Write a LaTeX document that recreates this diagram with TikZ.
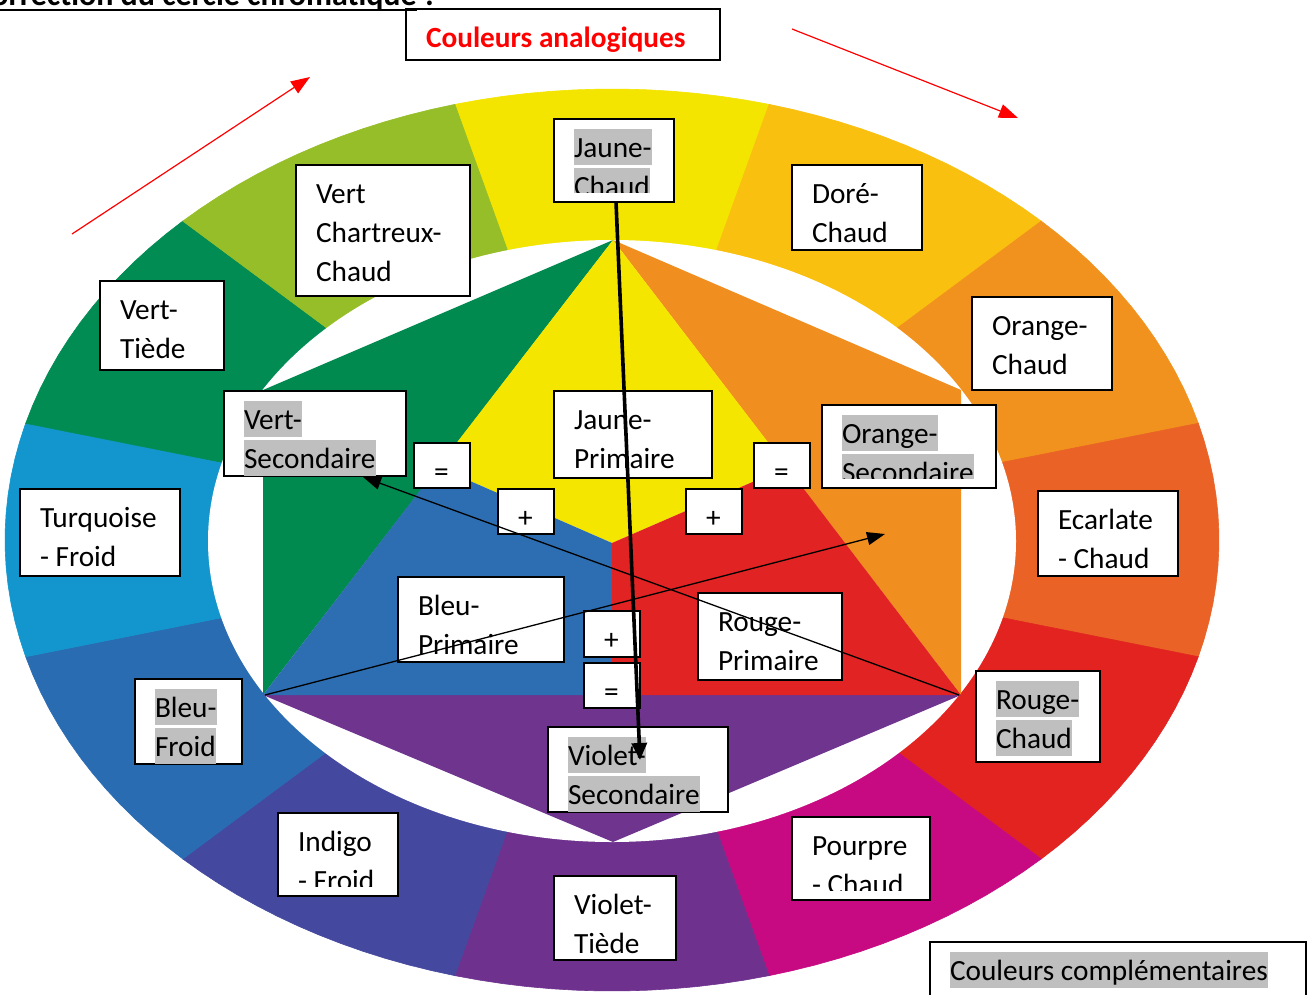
\documentclass[tikz,border=0pt]{standalone}
\usepackage{fontspec}
\setmainfont{Carlito}
\usetikzlibrary{arrows.meta}
\definecolor{hlgray}{RGB}{191,191,191}
\definecolor{cY}{RGB}{243,229,0}
\definecolor{cYO}{RGB}{250,192,15}
\definecolor{cO}{RGB}{242,146,30}
\definecolor{cRO}{RGB}{234,98,38}
\definecolor{cR}{RGB}{226,35,32}
\definecolor{cM}{RGB}{200,10,130}
\definecolor{cV}{RGB}{110,50,142}
\definecolor{cI}{RGB}{68,72,158}
\definecolor{cB}{RGB}{42,108,178}
\definecolor{cT}{RGB}{18,150,205}
\definecolor{cG}{RGB}{0,140,82}
\definecolor{cYG}{RGB}{150,190,40}
\definecolor{hY}{RGB}{245,230,0}
\definecolor{hO}{RGB}{240,142,32}
\definecolor{hR}{RGB}{225,35,35}
\definecolor{hV}{RGB}{110,52,142}
\definecolor{hB}{RGB}{45,110,178}
\definecolor{hG}{RGB}{0,138,80}
\setlength{\fboxsep}{0pt}
\newcommand\mystrut{\rule[-8pt]{0pt}{36pt}}
\newcommand\hl[1]{\colorbox{hlgray}{\mystrut#1}}
\newcommand\pl[1]{\mystrut#1}
\tikzset{
  boxst/.style={draw=black, fill=white, line width=1.3pt, inner sep=0pt, outer sep=0pt, rectangle},
  txt/.style={font=\fontsize{29.3}{39}\selectfont, align=left, inner sep=0pt, outer sep=0pt},
  redarr/.style={draw=red, line width=1.2pt, -{Triangle[length=19pt,width=14pt]}},
  thinarr/.style={draw=black, line width=1.3pt, -{Triangle[length=18pt,width=13pt]}},
  thickarr/.style={draw=black, line width=3.6pt, -{Triangle[length=17pt,width=15pt]}},
}
% #7 = distance of the text clip above the box bottom
\newcommand\tboxg[7]{%
  \node[boxst, minimum width={#4-#2}, minimum height={#5-#3}, anchor=north west] (#1) at (#2,#3) {};
  \begin{scope}
    \clip ([yshift=#7pt]#1.south west) rectangle (#1.north east);
    \node[txt, anchor=north west] (#1-t) at ([xshift=20pt,yshift=-10pt]#1.north west) {#6};
  \end{scope}}
\newcommand\tbox[6]{\tboxg{#1}{#2}{#3}{#4}{#5}{#6}{1}}
\newcommand\tboxc[6]{\tboxg{#1}{#2}{#3}{#4}{#5}{#6}{10}}
\begin{document}
\begin{tikzpicture}[x=1pt,y=-1pt]
\useasboundingbox (0,0) rectangle (1309,994);
\clip (0,0) rectangle (1309,994);
\fill[white] (0,0) rectangle (1309,994);
% outer ring sectors
\foreach \a/\c in {90/cY, 60/cYO, 30/cO, 0/cRO, -30/cR, -60/cM, -90/cV, -120/cI, -150/cB, 180/cT, 150/cG, 120/cYG}{
  \pgfmathsetmacro\s{\a-15}
  \pgfmathsetmacro\e{\a+15}
  \filldraw[fill=\c, draw=\c, line width=0.6pt] (612,540) -- plot[domain=\s:\e, samples=14] ({612+607*cos(\x)},{540-451*sin(\x)}) -- cycle;
}
% inner white ellipse
\fill[white] (612,541) ellipse [x radius=404pt, y radius=301pt];
% hexagon
\coordinate (hT) at (613,240);
\coordinate (hUL) at (263,390);
\coordinate (hLL) at (263,695);
\coordinate (hB) at (613,842);
\coordinate (hLR) at (961,695);
\coordinate (hUR) at (961,390);
\coordinate (hC) at (612,543);
\coordinate (mL) at (438,467);
\coordinate (mR) at (787,467);
\coordinate (mB) at (612,695);
\fill[hG] (hT) -- (hUL) -- (hLL) -- cycle;
\fill[hO] (hT) -- (hUR) -- (hLR) -- cycle;
\fill[hV] (hLL) -- (hB) -- (hLR) -- cycle;
\fill[hY] (hT) -- (mL) -- (hC) -- (mR) -- cycle;
\fill[hB] (hLL) -- (mL) -- (hC) -- (mB) -- cycle;
\fill[hR] (hLR) -- (mR) -- (hC) -- (mB) -- cycle;
% boxes
\tboxc{jc}{554}{119}{674}{202}{\hl{Jaune-}\\\hl{Chaud}}
\tbox{vc}{296}{165}{470}{296}{\pl{Vert}\\\pl{Chartreux-}\\\pl{Chaud}}
\tbox{dc}{792}{165}{922}{250}{\pl{Doré-}\\\pl{Chaud}}
\tbox{vt}{100}{281}{224}{370}{\pl{Vert-}\\\pl{Tiède}}
\tbox{oc}{972}{297}{1112}{390}{\pl{Orange-}\\\pl{Chaud}}
\tbox{vs}{224}{391}{406}{476}{\hl{Vert-}\\\hl{Secondaire}}
\tbox{jp}{554}{391}{712}{478}{\pl{Jaune-}\\\pl{Primaire}}
\tboxc{os}{822}{405}{996}{488}{\hl{Orange-}\\\hl{Secondaire}}
\tbox{eqa}{414}{443}{470}{488}{\pl{=}}
\tbox{eqb}{754}{443}{810}{488}{\pl{=}}
\tbox{pla}{498}{489}{554}{534}{\pl{+}}
\tbox{plb}{686}{489}{742}{534}{\pl{+}}
\tbox{tf}{20}{489}{180}{576}{\pl{Turquoise}\\\pl{- Froid}}
\tbox{ec}{1038}{491}{1178}{576}{\pl{Ecarlate}\\\pl{- Chaud}}
\tbox{bp}{398}{577}{564}{662}{\pl{Bleu-}\\\pl{Primaire}}
\tbox{rp}{698}{593}{842}{680}{\pl{Rouge-}\\\pl{Primaire}}
\tbox{plc}{584}{611}{640}{657}{\pl{+}}
\tbox{eqc}{584}{663}{640}{708}{\pl{=}}
\tbox{bf}{135}{679}{242}{764}{\hl{Bleu-}\\\hl{Froid}}
\tbox{rc}{976}{671}{1100}{762}{\hl{Rouge-}\\\hl{Chaud}}
\tbox{vsec}{548}{727}{728}{812}{\hl{Violet-}\\\hl{Secondaire}}
\tboxc{indf}{278}{813}{398}{896}{\pl{Indigo}\\\pl{- Froid}}
\tboxc{pc}{792}{817}{930}{900}{\pl{Pourpre}\\\pl{- Chaud}}
\tbox{vti}{554}{876}{676}{960}{\pl{Violet-}\\\pl{Tiède}}
\tbox{cc}{930}{942}{1306}{1010}{\hl{Couleurs complémentaires}}
\tbox{ca}{406}{9}{720}{60}{\color{red}\bfseries\pl{Couleurs analogiques}}
% title
\node[font=\bfseries\fontsize{32}{38}\selectfont, anchor=base east, inner sep=0pt] (title) at (417,5) {Correction du cercle chromatique};
\node[font=\bfseries\fontsize{32}{38}\selectfont, anchor=base west, inner sep=0pt] (colon) at ([xshift=8pt]title.base east) {:};
\draw[line width=2pt] ([yshift=-5pt]title.base west) -- ([yshift=-5pt]title.base east);
% arrows
\coordinate (ra1s) at (72,234);
\coordinate (ra1e) at (310,77);
\coordinate (ra2s) at (792,29);
\coordinate (ra2e) at (1018,118);
\coordinate (vsTip) at (640,760);
\coordinate (aTip) at (363,477);
\coordinate (bTip) at (885,534);
\draw[redarr] (ra1s) -- (ra1e);
\draw[redarr] (ra2s) -- (ra2e);
\draw[thinarr] ([xshift=-2pt]hLR) -- (aTip);
\draw[thinarr] ([xshift=2pt]hLL) -- (bTip);
\draw[thickarr] ([xshift=2pt]jc.south) -- (vsTip);
\end{tikzpicture}
\end{document}
